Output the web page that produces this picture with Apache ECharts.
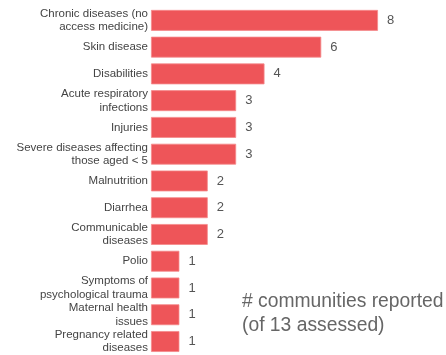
<!DOCTYPE html>
<html><head><meta charset="utf-8">
<script src="https://cdn.jsdelivr.net/npm/echarts@6/dist/echarts.min.js"></script>
<style>html,body{margin:0;padding:0;background:#fff}#c{width:446px;height:355px}</style>
</head><body><div id="c"></div>
<script>
const categories = [
  "Chronic diseases (no\naccess medicine)",
  "Skin disease",
  "Disabilities",
  "Acute respiratory\ninfections",
  "Injuries",
  "Severe diseases affecting\nthose aged < 5",
  "Malnutrition",
  "Diarrhea",
  "Communicable\ndiseases",
  "Polio",
  "Symptoms of\npsychological trauma",
  "Maternal health\nissues",
  "Pregnancy related\ndiseases"
];
const values = [8, 6, 4, 3, 3, 3, 2, 2, 2, 1, 1, 1, 1];
const noteLines = ["# communities reported", "(of 13 assessed)"];

const chart = echarts.init(document.getElementById('c'), null, {renderer: 'canvas'});
chart.setOption({
  animation: false,
  grid: {left: 151, right: 68, top: 7, bottom: 0, containLabel: false},
  xAxis: {type: 'value', min: 0, max: 8, show: false},
  yAxis: {
    type: 'category', data: categories, inverse: true,
    axisLine: {show: false}, axisTick: {show: false},
    axisLabel: {interval: 0, hideOverlap: false, fontSize: 11.5, color: '#444', margin: 3, lineHeight: 13.5, fontFamily: 'Liberation Sans, Arial, sans-serif'}
  },
  series: [{
    type: 'bar', data: values, barCategoryGap: '22%',
    itemStyle: {color: '#ee5559', borderColor: '#f58a8c', borderWidth: 0.8},
    label: {show: true, position: 'right', distance: 9, fontSize: 13, color: '#555', fontFamily: 'Liberation Sans, Arial, sans-serif'}
  }],
  graphic: [{
    type: 'text', left: 242, top: 290,
    style: {text: noteLines.join('\n'), fontSize: 19.3, lineHeight: 24, fill: '#666', fontFamily: 'Liberation Sans, Arial, sans-serif'}
  }]
});
</script></body></html>
